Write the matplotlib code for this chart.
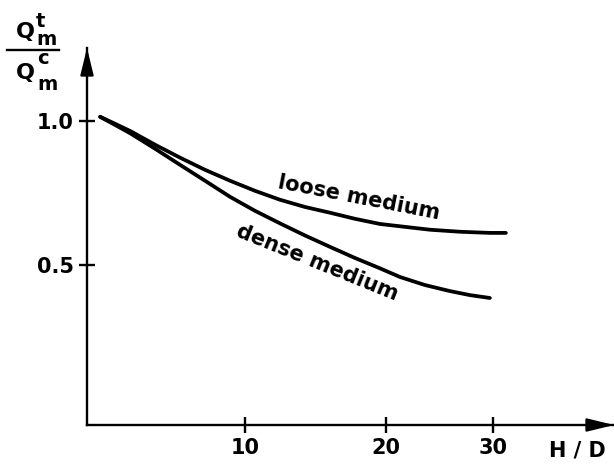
import numpy as np
import matplotlib
matplotlib.use("Agg")
import matplotlib.pyplot as plt

# H/D values and capacity ratios
loose_hd = [3.28, 3.80, 4.37, 5.40, 6.54, 7.78, 9.14, 10.60, 12.17, 13.85,
            15.64, 17.53, 19.54, 21.65, 23.88, 26.69, 29.65, 31.30]
loose_q = [1.014, 0.990, 0.965, 0.917, 0.872, 0.830, 0.792, 0.757, 0.726, 0.701,
           0.681, 0.660, 0.642, 0.632, 0.622, 0.615, 0.611, 0.611]
dense_hd = [3.28, 3.80, 4.37, 5.40, 6.54, 7.78, 9.14, 10.60, 12.17, 13.85,
            15.64, 17.53, 19.54, 21.22, 23.42, 25.73, 27.66, 29.65]
dense_q = [1.014, 0.986, 0.957, 0.903, 0.847, 0.792, 0.736, 0.6875, 0.644, 0.602,
           0.5625, 0.524, 0.488, 0.458, 0.430, 0.409, 0.395, 0.385]

x_ticks = [10, 20, 30]
x_tick_labels = ["10", "20", "30"]
y_ticks = [0.5, 1.0]
y_tick_labels = ["0.5", "1.0"]

W, H = 614, 465
fig = plt.figure(figsize=(W / 100, H / 100), dpi=100)
ax = fig.add_axes([87 / W, 1 - 425 / H, (W - 87) / W, (425 - 48) / H])

ax.set_xscale("function", functions=(np.sqrt, np.square))
ax.set_xlim(2.85, 43.6)
ax.set_ylim(-0.056, 1.253)

ax.plot(loose_hd, loose_q, color="black", lw=2.7, solid_capstyle="round",
        solid_joinstyle="round")
ax.plot(dense_hd, dense_q, color="black", lw=2.7, solid_capstyle="round",
        solid_joinstyle="round")

for s in ("top", "right"):
    ax.spines[s].set_visible(False)
for s in ("left", "bottom"):
    ax.spines[s].set_linewidth(1.7)

font = dict(family="DejaVu Sans", weight="bold", size=15)
ax.set_xticks(x_ticks)
ax.set_xticklabels(x_tick_labels, fontdict=font)
ax.set_yticks(y_ticks)
ax.set_yticklabels(y_tick_labels, fontdict=font)
ax.xaxis.set_minor_locator(matplotlib.ticker.NullLocator())
ax.tick_params(direction="inout", length=11, width=1.7, pad=4)

# axis arrowheads
arrow = dict(arrowstyle="-|>,head_length=0.9,head_width=0.22", color="black",
             lw=1.7, mutation_scale=18, shrinkA=0, shrinkB=0)
ax.annotate("", xy=(0, 1.0), xytext=(0, 0.93), xycoords="axes fraction",
            arrowprops=arrow, annotation_clip=False)
ax.annotate("", xy=(1.0, 0), xytext=(0.95, 0), xycoords="axes fraction",
            arrowprops=arrow, annotation_clip=False)


def px(x, y):
    return x / W, 1 - y / H


# curve labels
fig.text(*px(359, 198), "loose medium", rotation=-11, ha="center", va="center",
         **font)
fig.text(*px(317, 263), "dense medium", rotation=-22, ha="center", va="center",
         **font)

fig.text(*px(577, 450), "H / D", ha="center", va="center", **font)

# y-axis quantity as a stacked fraction
big = dict(family="DejaVu Sans", weight="bold", size=16)
lab = dict(family="DejaVu Sans", weight="bold", size=14)
fig.text(*px(25, 38), "Q", ha="center", va="baseline", **big)
fig.text(*px(36, 45), "t\nm", ha="left", va="baseline", linespacing=0.95, **lab)
fig.add_artist(plt.Line2D([7 / W, 59 / W], [1 - 50.5 / H, 1 - 50.5 / H],
                          color="black", lw=1.7))
fig.text(*px(25, 79), "Q", ha="center", va="baseline", **big)
fig.text(*px(37, 90), "c\nm", ha="left", va="baseline", linespacing=1.5, **lab)

fig.savefig("out.png", dpi=100)
